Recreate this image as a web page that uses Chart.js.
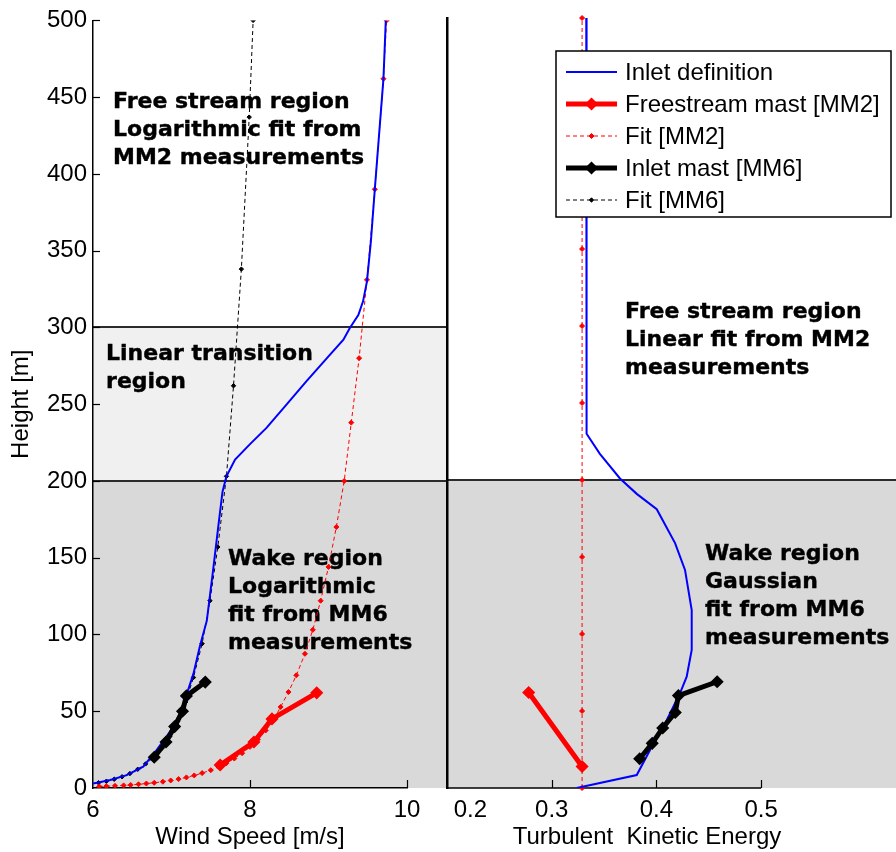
<!DOCTYPE html>
<html>
<head>
<meta charset="utf-8">
<title>Inlet profiles</title>
<script src="https://cdn.jsdelivr.net/npm/chart.js@4.4.0/dist/chart.umd.min.js"></script>
<style>
  html, body { margin: 0; padding: 0; background: #fff; }
  #wrap { position: relative; width: 896px; height: 852px; }
  #wrap canvas { position: absolute; left: 0; top: 0; }
</style>
</head>
<body>
<div id="wrap">
  <canvas id="speedChart" width="896" height="852"></canvas>
  <canvas id="tkeChart" width="896" height="852"></canvas>
</div>
<script>
// ---- axis ticks ----
const heightTicks = [0, 50, 100, 150, 200, 250, 300, 350, 400, 450, 500];
const speedTicks = [6, 8, 10];
const tkeTicks = [0.2, 0.3, 0.4, 0.5];

// region limits [m]
const WAKE_TOP = 200;
const TRANSITION_TOP = 300;

// ---- wind speed panel (m/s vs height m) ----
const inletDefSpeed  = [6.00, 6.22, 6.43, 6.64, 6.81, 6.98, 7.11, 7.21, 7.28, 7.36, 7.45, 7.53, 7.60, 7.65, 7.70, 7.81, 8.00, 8.21, 8.47, 8.72, 8.98, 9.19, 9.27, 9.38, 9.44, 9.49, 9.54, 9.59, 9.70, 9.73];
const inletDefHeight = [3, 5.2, 8.4, 13.9, 24.7, 36.6, 48.5, 63.6, 74.5, 92, 109, 142, 172, 193, 203, 214, 224, 234.6, 250, 265, 280, 292, 299.5, 308, 317, 330, 356, 390, 462, 500];

const mm2MastSpeed  = [7.62, 8.05, 8.28, 8.85];
const mm2MastHeight = [15, 30, 45, 62];

const mm2FitSpeed  = [6.08, 6.17, 6.28, 6.39, 6.48, 6.58, 6.68, 6.78, 6.89, 6.99, 7.09, 7.19, 7.29, 7.39, 7.50, 7.60, 7.70, 7.80, 7.90, 8.00, 8.10, 8.20, 8.30, 8.39, 8.49, 8.59, 8.70, 8.80, 8.90, 9.00, 9.10, 9.20, 9.29, 9.39, 9.49, 9.59, 9.70, 9.74];
const mm2FitHeight = [1.0, 1.2, 1.4, 1.7, 2.0, 2.4, 2.9, 3.4, 4.1, 4.9, 5.8, 6.9, 8.2, 9.7, 11.6, 13.7, 16.2, 19.2, 22.7, 26.8, 31.7, 37.5, 44.4, 52.8, 62.5, 73.4, 87.4, 103, 122, 144, 170, 200, 238, 280, 331, 390, 462, 500];

const mm6MastSpeed  = [6.78, 6.93, 7.04, 7.14, 7.19, 7.43];
const mm6MastHeight = [20, 30, 40, 50, 60, 69];

const mm6FitSpeed  = [6.07, 6.17, 6.27, 6.37, 6.47, 6.57, 6.67, 6.78, 6.88, 6.98, 7.08, 7.18, 7.28, 7.39, 7.49, 7.59, 7.70, 7.79, 7.89, 7.99, 8.04];
const mm6FitHeight = [3.4, 4.4, 5.7, 7.3, 9.4, 12.2, 15.7, 20.2, 26, 33.7, 43.5, 56, 72, 94, 122, 157, 203, 262, 338, 437, 500];

// ---- turbulent kinetic energy panel ----
const inletDefTke       = [0.333, 0.3333, 0.346, 0.3652, 0.3812, 0.4003, 0.4178, 0.4273, 0.4337, 0.4337, 0.4289, 0.4225, 0.4098, 0.3939, 0.3812, 0.3239];
const inletDefTkeHeight = [500, 230, 217, 201, 191, 181, 159, 141.6, 115.6, 89.6, 72.3, 61.5, 44, 24.7, 8.4, 0];

const mm2MastTke       = [0.278, 0.329];
const mm2MastTkeHeight = [62, 14];

const mm2FitTke       = [0.329, 0.329, 0.329, 0.329, 0.329, 0.329, 0.329, 0.329, 0.329, 0.329, 0.329];
const mm2FitTkeHeight = [0, 50, 100, 150, 200, 250, 300, 350, 400, 450, 500];

const mm6MastTke       = [0.384, 0.396, 0.406, 0.418, 0.421, 0.458];
const mm6MastTkeHeight = [19, 29, 39, 49, 60, 69];

// ---- styling ----
Chart.defaults.font.family = '"Liberation Sans", Arial, Helvetica, sans-serif';
Chart.defaults.font.size = 24;
Chart.defaults.color = '#000';

const DARK = '#d9d9d9', LIGHT = '#f0f0f0', RULE = '#2b2b2b';
const NOTE_FONT = 'bold 22px "DejaVu Sans", sans-serif';

const series = {
  inlet: { label: 'Inlet definition', borderColor: '#0000ff', borderWidth: 2, pointRadius: 0 },
  mm2:   { label: 'Freestream mast [MM2]', borderColor: '#ff0000', backgroundColor: '#ff0000', borderWidth: 5, pointStyle: 'rectRot', pointRadius: 5.5, pointBorderWidth: 1.5 },
  fit2:  { label: 'Fit [MM2]', borderColor: '#ff0000', backgroundColor: '#ff0000', borderWidth: 1, borderDash: [4, 3], pointStyle: 'rectRot', pointRadius: 2.5, pointBorderWidth: 1 },
  mm6:   { label: 'Inlet mast [MM6]', borderColor: '#000000', backgroundColor: '#000000', borderWidth: 5, pointStyle: 'rectRot', pointRadius: 5.5, pointBorderWidth: 1.5 },
  fit6:  { label: 'Fit [MM6]', borderColor: '#000000', backgroundColor: '#000000', borderWidth: 1, borderDash: [4, 3], pointStyle: 'rectRot', pointRadius: 2.2, pointBorderWidth: 1 }
};
const legendOrder = ['inlet', 'mm2', 'fit2', 'mm6', 'fit6'];

function xy(xs, ys) {
  return xs.map((x, i) => ({ x, y: ys[i] }));
}

function dataset(key, xs, ys, order) {
  return Object.assign({}, series[key], {
    data: xy(xs, ys), showLine: true, tension: 0, order,
    pointHoverRadius: series[key].pointRadius
  });
}

function diamond(ctx, x, y, r) {
  ctx.beginPath();
  ctx.moveTo(x, y - r); ctx.lineTo(x + r, y); ctx.lineTo(x, y + r); ctx.lineTo(x - r, y);
  ctx.closePath();
  ctx.fill();
  ctx.stroke();
}

function drawLegend(ctx) {
  ctx.save();
  ctx.fillStyle = '#fff';
  ctx.fillRect(556, 51, 335, 166);
  ctx.strokeStyle = '#000';
  ctx.lineWidth = 1.5;
  ctx.strokeRect(556, 51, 335, 166);
  legendOrder.forEach((key, i) => {
    const s = series[key];
    const cy = 72 + i * 32;
    ctx.strokeStyle = s.borderColor;
    ctx.lineWidth = s.borderWidth;
    ctx.setLineDash(s.borderDash || []);
    ctx.beginPath(); ctx.moveTo(566, cy); ctx.lineTo(617, cy); ctx.stroke();
    ctx.setLineDash([]);
    if (s.pointRadius) {
      ctx.fillStyle = s.backgroundColor;
      ctx.lineWidth = s.pointBorderWidth;
      diamond(ctx, 591.5, cy, s.pointRadius);
    }
    ctx.fillStyle = '#000';
    ctx.font = '24px "Liberation Sans", Arial, sans-serif';
    ctx.textBaseline = 'middle';
    ctx.fillText(s.label, 625, cy + 1);
  });
  ctx.restore();
}

// shaded regions, inward ticks, notes and legend
const decoPlugin = {
  id: 'deco',
  beforeDraw(chart, args, opts) {
    const { ctx, chartArea: a, scales: { y } } = chart;
    const right = opts.toCanvasEdge ? chart.width : opts.right;
    ctx.save();
    opts.bands.forEach(b => {
      const top = y.getPixelForValue(b.to), bot = y.getPixelForValue(b.from);
      ctx.fillStyle = b.color;
      ctx.fillRect(a.left, top, right - a.left, bot - top);
    });
    ctx.strokeStyle = RULE;
    ctx.lineWidth = 2;
    opts.rules.forEach(v => {
      const py = Math.round(y.getPixelForValue(v));
      ctx.beginPath(); ctx.moveTo(a.left, py); ctx.lineTo(right, py); ctx.stroke();
    });
    ctx.restore();
  },
  beforeDatasetsDraw(chart, args, opts) {
    const { ctx, chartArea: a, scales: { x, y } } = chart;
    ctx.save();
    ctx.strokeStyle = '#000';
    ctx.lineWidth = 1.2;
    x.ticks.forEach(t => {
      if (t.value === x.min) return;
      const px = Math.round(x.getPixelForValue(t.value)) + 0.5;
      ctx.beginPath(); ctx.moveTo(px, a.bottom); ctx.lineTo(px, a.bottom - 8); ctx.stroke();
    });
    if (opts.yTicks) {
      y.ticks.forEach(t => {
        if (t.value === y.min) return;
        const py = Math.round(y.getPixelForValue(t.value)) + 0.5;
        ctx.beginPath(); ctx.moveTo(a.left, py); ctx.lineTo(a.left + 7, py); ctx.stroke();
      });
    }
    if (opts.axisLineTo != null) {
      ctx.lineWidth = 1.5;
      ctx.beginPath();
      ctx.moveTo(a.left, a.bottom);
      ctx.lineTo(x.getPixelForValue(opts.axisLineTo), a.bottom);
      ctx.stroke();
    }
    // region notes, a touch heavier than plain bold
    ctx.fillStyle = '#000';
    ctx.strokeStyle = '#000';
    ctx.lineWidth = 0.4;
    ctx.font = NOTE_FONT;
    ctx.textBaseline = 'alphabetic';
    opts.notes.forEach(n => {
      const px = x.getPixelForValue(n.x), py = y.getPixelForValue(n.y);
      n.lines.forEach((s, i) => {
        ctx.fillText(s, px, py + i * 28);
        ctx.strokeText(s, px, py + i * 28);
      });
    });
    ctx.restore();
  },
  afterDraw(chart, args, opts) {
    if (opts.legend) drawLegend(chart.ctx);
  }
};

function yScale(showLabels) {
  return {
    min: 0, max: 500,
    afterBuildTicks: s => { s.ticks = heightTicks.map(v => ({ value: v })); },
    grid: { display: false, drawTicks: false },
    border: { display: true, color: '#000', width: showLabels ? 1.5 : 2.5 },
    ticks: { display: showLabels, padding: 6, autoSkip: false },
    title: { display: showLabels, text: 'Height [m]', padding: { top: 7, bottom: 0 } },
    afterFit: s => { s.width = showLabels ? 93 : 447; }
  };
}

const common = {
  responsive: false,
  animation: false,
  events: [],
  plugins: { legend: { display: false }, tooltip: { enabled: false } }
};

new Chart(document.getElementById('speedChart'), {
  type: 'scatter',
  data: {
    datasets: [
      dataset('mm6', mm6MastSpeed, mm6MastHeight, 0),
      dataset('mm2', mm2MastSpeed, mm2MastHeight, 1),
      dataset('inlet', inletDefSpeed, inletDefHeight, 2),
      dataset('fit2', mm2FitSpeed, mm2FitHeight, 3),
      dataset('fit6', mm6FitSpeed, mm6FitHeight, 4)
    ]
  },
  options: Object.assign({}, common, {
    layout: { padding: { top: 18, right: 489, bottom: 0, left: 0 } },
    scales: {
      x: {
        min: 6, max: 10,
        afterBuildTicks: s => { s.ticks = speedTicks.map(v => ({ value: v })); },
        grid: { display: false, drawTicks: false },
        border: { display: true, color: '#000', width: 1.5 },
        ticks: { padding: 8, maxRotation: 0, autoSkip: false },
        title: { display: true, text: 'Wind Speed [m/s]', padding: { top: 0, bottom: 0 } },
        afterFit: s => { s.height = 64; }
      },
      y: yScale(true)
    },
    plugins: Object.assign({}, common.plugins, {
      deco: {
        right: 447,
        bands: [{ from: 0, to: WAKE_TOP, color: DARK }, { from: WAKE_TOP, to: TRANSITION_TOP, color: LIGHT }],
        rules: [WAKE_TOP, TRANSITION_TOP],
        yTicks: true,
        notes: [
          { x: 6.255, y: 443, lines: ['Free stream region', 'Logarithmic fit from', 'MM2 measurements'] },
          { x: 6.166, y: 279, lines: ['Linear transition', 'region'] },
          { x: 7.72, y: 145.5, lines: ['Wake region', 'Logarithmic', 'fit from MM6', 'measurements'] }
        ]
      }
    })
  }),
  plugins: [decoPlugin]
});

new Chart(document.getElementById('tkeChart'), {
  type: 'scatter',
  data: {
    datasets: [
      dataset('mm6', mm6MastTke, mm6MastTkeHeight, 0),
      dataset('mm2', mm2MastTke, mm2MastTkeHeight, 1),
      dataset('inlet', inletDefTke, inletDefTkeHeight, 2),
      Object.assign(dataset('fit2', mm2FitTke, mm2FitTkeHeight, 3), { clip: 6 })
    ]
  },
  options: Object.assign({}, common, {
    layout: { padding: { top: 18, right: 49, bottom: 0, left: 0 } },
    scales: {
      x: {
        min: 0.2, max: 0.582,
        afterBuildTicks: s => { s.ticks = tkeTicks.map(v => ({ value: v })); },
        grid: { display: false, drawTicks: false },
        border: { display: false },
        ticks: {
          padding: 8, maxRotation: 0, autoSkip: false,
          callback: v => (v === 0.2 ? '       0.2' : v.toFixed(1))
        },
        title: { display: true, text: 'Turbulent  Kinetic Energy', padding: { top: 0, bottom: 0 } },
        afterFit: s => { s.height = 64; }
      },
      y: yScale(false)
    },
    plugins: Object.assign({}, common.plugins, {
      deco: {
        toCanvasEdge: true,
        bands: [{ from: 0, to: WAKE_TOP, color: DARK }],
        rules: [WAKE_TOP],
        axisLineTo: 0.5,
        legend: true,
        notes: [
          { x: 0.370, y: 305, lines: ['Free stream region', 'Linear fit from MM2', 'measurements'] },
          { x: 0.4464, y: 148, lines: ['Wake region', 'Gaussian', 'fit from MM6', 'measurements'] }
        ]
      }
    })
  }),
  plugins: [decoPlugin]
});
</script>
</body>
</html>
